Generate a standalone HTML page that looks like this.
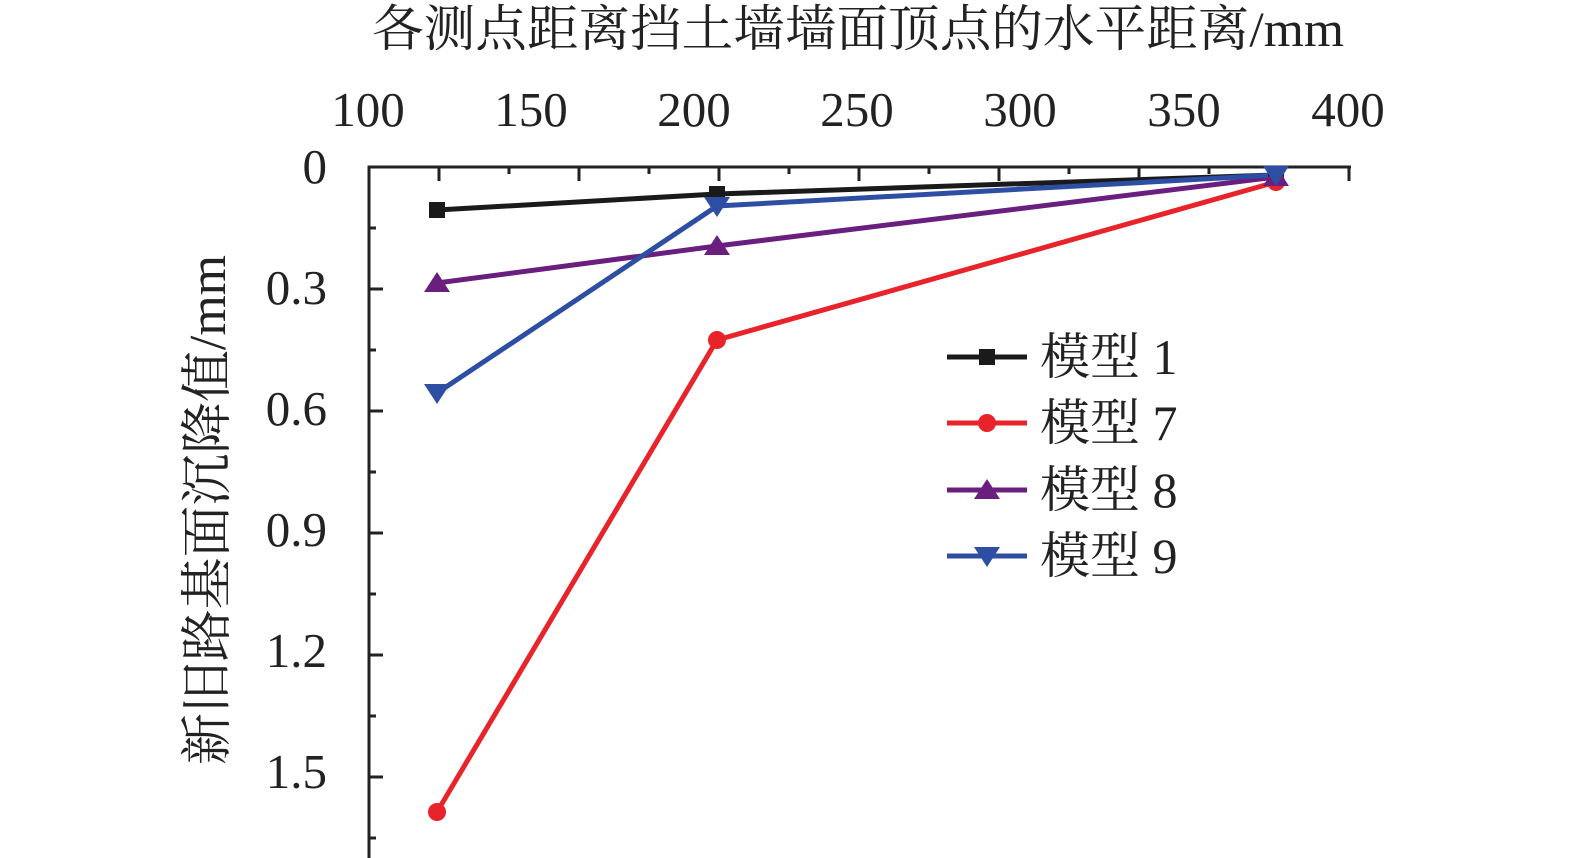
<!DOCTYPE html>
<html><head><meta charset="utf-8"><style>html,body{margin:0;background:#fff;overflow:hidden;width:1575px;height:858px}svg{display:block}</style></head><body>
<svg width="1575" height="858" viewBox="0 0 1575 858" xmlns="http://www.w3.org/2000/svg" font-family="'Liberation Serif','Noto Serif CJK SC',serif">
<text x="858" y="46" font-size="50" text-anchor="middle" fill="#222" textLength="972" lengthAdjust="spacingAndGlyphs">各测点距离挡土墙墙面顶点的水平距离/mm</text>
<g font-size="49" fill="#222" text-anchor="middle">
<text x="368" y="126">100</text><text x="531" y="126">150</text><text x="694" y="126">200</text><text x="857" y="126">250</text><text x="1020" y="126">300</text><text x="1184" y="126">350</text><text x="1348" y="126">400</text>
</g>
<g font-size="49" fill="#222" text-anchor="end">
<text x="327" y="183">0</text><text x="327" y="304">0.3</text><text x="327" y="425">0.6</text><text x="327" y="546">0.9</text><text x="327" y="667">1.2</text><text x="327" y="788">1.5</text>
</g>
<text transform="translate(225,510) rotate(-90)" font-size="52" text-anchor="middle" fill="#222" textLength="510" lengthAdjust="spacingAndGlyphs">新旧路基面沉降值/mm</text>
<g stroke="#222" stroke-width="3" fill="none">
<path d="M369,858 V167 H1351"/>
<path d="M439,167v14M509,167v7M579,167v14M649,167v7M719,167v14M789,167v7M859,167v14M929,167v7M999,167v14M1069,167v7M1139,167v14M1209,167v7M1279,167v14M1349,167v14"/>
<path d="M369,228h7M369,289h14M369,350h7M369,411h14M369,472h7M369,533h14M369,594h7M369,655h14M369,716h7M369,777h14M369,838h7"/>
</g>
<g stroke-width="5" fill="none">
<polyline points="437,210 717,194 1276,175" stroke="#1a1a1a"/>
<polyline points="437,812 717,340 1276,182" stroke="#e8232a"/>
<polyline points="437,283 717,246 1276,177" stroke="#6a1f7f"/>
<polyline points="437,393 717,206 1276,175" stroke="#2e4ea4"/>
</g>
<g fill="#1a1a1a"><rect x="429" y="202" width="16" height="16"/><rect x="709" y="186" width="16" height="16"/><rect x="1268" y="167" width="16" height="16"/></g>
<g fill="#e8232a"><circle cx="437" cy="812" r="9"/><circle cx="717" cy="340" r="9"/><circle cx="1276" cy="182" r="9"/></g>
<g fill="#6a1f7f"><path d="M437,272l13,20h-26z"/><path d="M717,235l13,20h-26z"/><path d="M1276,166l13,20h-26z"/></g>
<g fill="#2e4ea4"><path d="M437,404l13,-20h-26z"/><path d="M717,217l13,-20h-26z"/><path d="M1276,186l13,-20h-26z"/></g>
<g stroke-width="5">
<line x1="947" y1="357" x2="1027" y2="357" stroke="#1a1a1a"/>
<line x1="947" y1="423" x2="1027" y2="423" stroke="#e8232a"/>
<line x1="947" y1="490" x2="1027" y2="490" stroke="#6a1f7f"/>
<line x1="947" y1="556" x2="1027" y2="556" stroke="#2e4ea4"/>
</g>
<rect x="979" y="349" width="16" height="16" fill="#1a1a1a"/>
<circle cx="987" cy="423" r="9" fill="#e8232a"/>
<path d="M987,479l13,20h-26z" fill="#6a1f7f"/>
<path d="M987,567l13,-20h-26z" fill="#2e4ea4"/>
<g font-size="50" fill="#222">
<text x="1040" y="374">模型 1</text><text x="1040" y="440">模型 7</text><text x="1040" y="507">模型 8</text><text x="1040" y="573">模型 9</text>
</g>
</svg>
</body></html>
